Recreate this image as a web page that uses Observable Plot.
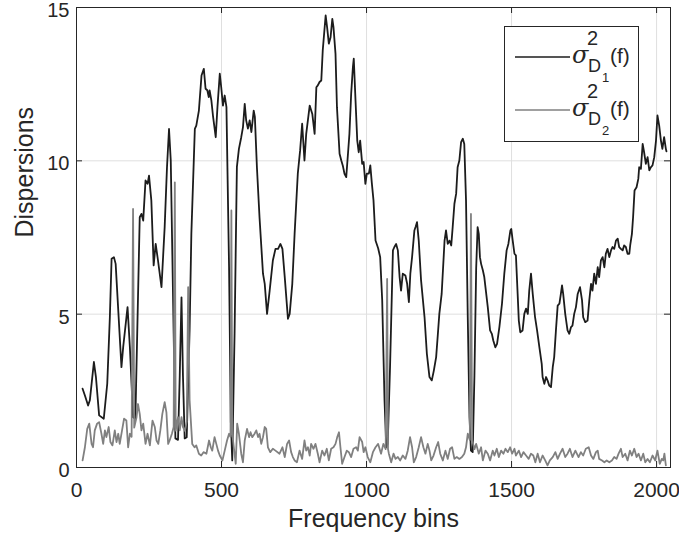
<!DOCTYPE html>
<html>
<head>
<meta charset="utf-8">
<script src="https://cdn.jsdelivr.net/npm/d3@7"></script>
<script src="https://cdn.jsdelivr.net/npm/@observablehq/plot@0.6"></script>
<style>
  html, body { margin: 0; padding: 0; background: white; }
</style>
</head>
<body>
<div id="chart"></div>
<script>
// ---- data ----
const bins1 = [21,29,40,46,60,67,78,94,106,115,121,129,135,144,155,161,176,184,195,203,218,224,230,238,245,250,258,266,273,281,293,304,312,319,325,335,341,350,356,362,367,373,380,390,396,408,413,422,431,439,445,451,456,459,465,471,480,486,494,499,505,511,517,526,532,537,545,553,560,568,574,580,585,591,597,603,611,615,622,631,643,649,657,666,677,686,695,703,710,718,729,735,744,752,763,771,778,786,792,804,813,821,827,832,838,844,849,859,864,870,876,882,886,893,898,907,913,918,924,930,936,941,947,953,956,962,968,973,978,985,990,996,1001,1008,1013,1018,1024,1031,1040,1047,1054,1062,1068,1073,1081,1091,1096,1102,1108,1114,1119,1125,1134,1140,1146,1151,1157,1165,1169,1174,1180,1188,1200,1208,1217,1225,1232,1240,1246,1251,1259,1269,1274,1280,1286,1292,1297,1303,1309,1314,1320,1326,1332,1337,1343,1349,1355,1360,1366,1372,1378,1383,1387,1391,1395,1401,1406,1412,1418,1426,1432,1437,1444,1450,1458,1467,1475,1483,1489,1496,1499,1504,1510,1515,1521,1525,1530,1538,1544,1550,1556,1561,1567,1573,1581,1588,1596,1604,1607,1613,1619,1624,1630,1636,1642,1647,1653,1659,1665,1670,1674,1678,1685,1693,1699,1705,1710,1716,1722,1728,1736,1743,1747,1754,1762,1768,1774,1779,1785,1791,1797,1802,1808,1814,1820,1825,1831,1837,1843,1848,1854,1860,1866,1871,1877,1883,1888,1894,1900,1906,1909,1915,1919,1924,1931,1937,1940,1946,1952,1957,1963,1969,1975,1980,1986,1992,1998,2003,2009,2015,2020,2026,2032,2034];
const vals1 = [2.57,2.35,2.02,2.19,3.44,2.95,1.70,1.59,2.73,4.9,6.81,6.86,6.64,5.12,3.27,3.93,5.23,3.93,1.64,1.59,8.16,8.27,8.05,9.36,9.25,9.52,8.71,6.59,7.29,6.75,5.88,7.84,9.79,11.04,10.01,4.36,0.95,0.9,3.0,5.55,3.0,0.95,0.99,4.5,7.62,11.04,11.15,11.64,12.78,13.0,12.35,12.3,12.08,12.3,11.97,11.43,10.77,11.75,12.84,12.4,11.8,12.13,11.75,6.53,1.5,0.23,4.36,9.8,10.39,10.77,11.1,11.86,11.32,11.05,11.32,10.94,11.64,11.43,9.8,8.16,6.32,5.99,5.01,5.77,6.75,7.13,7.13,7.29,7.13,6.21,4.85,5.01,5.99,7.62,9.58,10.34,11.21,10.01,10.88,11.8,11.53,10.88,12.4,12.46,12.57,12.62,13.6,14.74,14.36,13.82,14.03,14.63,14.36,13.49,11.75,10.23,10.01,9.85,9.58,9.47,10.23,10.88,12.19,13.06,13.33,11.97,10.66,10.28,10.66,9.9,9.96,9.25,9.58,9.58,9.85,9.3,8.71,7.4,7.15,6.86,5.45,2.19,0.66,0.77,3.27,7.08,7.19,7.29,7.08,6.21,5.77,6.32,6.26,5.99,5.39,6.32,6.86,7.73,7.84,8.0,7.4,6.1,4.9,3.71,2.95,2.84,3.16,3.6,4.36,5.01,5.66,7.4,7.73,7.29,7.4,7.24,7.84,8.6,8.93,9.79,10.01,10.61,10.72,10.55,8.71,4.9,1.64,0.55,0.5,3.0,6.5,7.84,7.62,6.86,6.64,6.43,6.21,5.72,5.23,4.47,4.36,4.14,3.92,4.03,4.58,5.34,6.32,7.08,7.29,7.73,7.78,7.4,6.97,6.92,5.66,4.79,4.41,4.47,5.01,5.18,5.01,5.77,6.32,5.66,4.9,4.47,3.92,3.38,2.95,2.73,2.95,2.84,2.67,2.62,3.27,3.6,4.47,5.28,5.34,5.66,5.94,5.66,5.01,4.47,4.36,4.58,4.63,5.01,5.23,5.66,5.88,5.45,4.9,4.74,4.79,5.45,5.99,5.77,6.32,5.99,6.53,6.21,6.75,6.86,6.53,6.97,7.13,6.86,7.08,7.19,7.13,7.4,7.46,7.19,7.13,7.08,7.24,7.19,6.97,6.97,7.24,7.62,8.16,9.03,9.14,9.41,9.79,9.74,10.55,10.28,9.9,10.12,9.69,9.79,9.85,10.12,10.66,11.48,11.15,10.66,10.39,10.77,10.39,10.31];

const bins2 = [21,29,37,44,52,57,63,71,78,86,92,98,103,111,117,124,132,138,144,149,157,164,172,178,184,190,195,199,207,212,218,224,230,238,245,253,262,270,276,282,289,296,304,310,316,321,329,335,339,342,350,356,362,367,374,380,385,390,399,407,413,422,430,438,448,457,463,468,476,482,488,494,503,511,519,526,531,534,537,549,554,560,568,574,580,588,595,600,606,614,620,626,631,637,643,649,654,660,668,677,686,700,710,718,726,733,740,746,752,760,769,778,786,792,798,804,809,817,824,832,838,847,855,863,870,878,886,893,899,905,910,916,924,932,939,947,955,964,970,976,985,990,996,1004,1013,1022,1031,1040,1050,1058,1066,1071,1074,1077,1085,1093,1100,1108,1116,1125,1134,1142,1150,1157,1163,1171,1180,1188,1196,1203,1211,1217,1223,1231,1240,1247,1254,1263,1272,1280,1288,1295,1303,1311,1320,1329,1337,1343,1349,1356,1360,1364,1372,1378,1387,1395,1401,1410,1418,1426,1435,1441,1449,1456,1464,1472,1479,1487,1495,1502,1510,1515,1525,1533,1541,1550,1559,1567,1575,1582,1590,1598,1607,1616,1624,1632,1642,1651,1659,1667,1676,1685,1693,1701,1710,1720,1731,1739,1747,1756,1766,1774,1782,1791,1797,1802,1812,1820,1828,1837,1846,1854,1862,1869,1877,1883,1892,1900,1908,1915,1923,1931,1938,1946,1954,1961,1969,1977,1986,1995,2003,2011,2018,2023,2027,2032];
const vals2 = [0.23,0.66,1.26,1.43,0.77,0.66,1.21,1.43,1.48,1.1,0.77,1.21,0.99,1.32,0.83,0.72,1.21,0.83,1.1,0.77,1.21,1.59,1.53,0.66,1.1,1.0,8.43,1.3,1.64,2.07,1.75,1.21,1.43,0.77,1.1,0.72,1.53,1.32,0.88,0.77,1.21,1.75,2.13,1.8,0.77,0.88,1.1,1.32,9.3,1.2,1.64,1.21,1.64,1.32,1.2,1.5,5.88,2.19,0.77,0.66,0.72,0.45,0.39,0.5,0.45,0.88,0.66,0.55,0.99,0.77,0.55,0.39,0.23,0.55,0.88,1.1,1.0,8.38,1.1,0.12,1.43,1.1,0.45,0.17,0.88,1.26,0.99,1.15,0.99,1.1,1.21,0.99,1.1,0.77,0.99,1.32,1.26,0.66,0.5,0.61,0.55,0.45,0.66,0.34,0.77,0.88,0.5,0.34,0.23,0.17,0.55,0.28,0.88,0.55,0.66,0.39,0.77,0.61,0.77,0.45,0.17,0.55,0.39,0.61,0.23,0.61,0.66,0.77,0.99,1.15,0.66,0.12,0.34,0.55,0.5,0.34,0.61,0.66,0.55,0.99,0.83,0.5,0.66,0.34,0.17,0.5,0.66,0.77,0.45,0.77,0.6,6.15,0.6,0.45,0.17,0.45,0.28,0.34,0.23,0.39,0.28,0.55,0.99,0.66,0.17,0.34,0.66,0.99,0.66,0.45,0.77,0.55,0.23,0.39,0.66,0.83,0.45,0.23,0.55,0.28,0.61,0.66,0.28,0.34,0.28,0.34,0.45,0.66,1.1,0.9,8.27,0.9,0.6,0.77,0.45,0.66,0.23,0.55,0.45,0.23,0.55,0.39,0.61,0.34,0.55,0.45,0.61,0.5,0.66,0.45,0.61,0.39,0.55,0.34,0.5,0.39,0.28,0.45,0.39,0.17,0.45,0.17,0.39,0.23,0.07,0.23,0.34,0.5,0.28,0.45,0.61,0.34,0.45,0.61,0.34,0.55,0.34,0.5,0.39,0.61,0.66,0.39,0.28,0.5,0.55,0.28,0.23,0.17,0.23,0.17,0.23,0.34,0.28,0.45,0.61,0.34,0.45,0.23,0.55,0.39,0.61,0.34,0.45,0.23,0.45,0.17,0.28,0.17,0.39,0.23,0.55,0.12,0.28,0.23,0.45,0.07];

const xTicks = [0, 500, 1000, 1500, 2000];
const yTicks = [0, 5, 10, 15];
const xLabel = "Frequency bins";
const yLabel = "Dispersions";

const series1 = bins1.map((b, i) => ({bin: b, v: vals1[i]}));
const series2 = bins2.map((b, i) => ({bin: b, v: vals2[i]}));

const axisColor = "#262626";
const chart = Plot.plot({
  width: 679,
  height: 545,
  marginLeft: 76,
  marginRight: 9,
  marginTop: 7,
  marginBottom: 78,
  style: {fontFamily: "'Liberation Sans', Arial, sans-serif", color: axisColor, background: "white"},
  x: {domain: [0, 2048]},
  y: {domain: [0, 15]},
  marks: [
    Plot.gridX(xTicks, {stroke: "#dfdfdf", strokeOpacity: 1}),
    Plot.gridY(yTicks, {stroke: "#dfdfdf", strokeOpacity: 1}),
    Plot.line(series1, {x: "bin", y: "v", stroke: "#1c1c1c", strokeWidth: 1.8}),
    Plot.line(series2, {x: "bin", y: "v", stroke: "#808080", strokeWidth: 1.8}),
    Plot.frame({stroke: axisColor, strokeWidth: 1}),
    Plot.tickX(xTicks, {x: d => d, stroke: axisColor, insetTop: 454}),
    Plot.tickX(xTicks, {x: d => d, stroke: axisColor, insetBottom: 454}),
    Plot.tickY(yTicks, {y: d => d, stroke: axisColor, insetRight: 588}),
    Plot.tickY(yTicks, {y: d => d, stroke: axisColor, insetLeft: 588}),
    Plot.axisX(xTicks, {tickSize: 0, tickPadding: 15, fontSize: 21, label: null, tickFormat: d => String(d)}),
    Plot.axisY(yTicks, {tickSize: 0, tickPadding: 7, fontSize: 20, dy: 3, label: null, tickFormat: d => String(d)}),
    Plot.text([xLabel], {text: d => d, frameAnchor: "bottom", dy: 59, fontSize: 25, fill: axisColor}),
    Plot.text([yLabel], {text: d => d, frameAnchor: "left", dx: -52, rotate: -90, fontSize: 25, fill: axisColor})
  ]
});
document.getElementById("chart").appendChild(chart);

// ---- legend ----
const svg = d3.select(chart);
const lg = svg.append("g").attr("text-anchor", "start");
lg.append("rect").attr("x", 504.5).attr("y", 26.5).attr("width", 134).attr("height", 115)
  .attr("fill", "white").attr("stroke", axisColor).attr("stroke-width", 1);
const entries = [
  {stroke: "#1c1c1c", sub: "1"},
  {stroke: "#808080", sub: "2"}
];
entries.forEach((e, i) => {
  const oy = i * 53;
  lg.append("line").attr("x1", 515).attr("x2", 570).attr("y1", 57 + oy).attr("y2", 57 + oy)
    .attr("stroke", e.stroke).attr("stroke-width", 1.6);
  const t = (x, y, s, size, extra) => {
    const el = lg.append("text").attr("x", x).attr("y", y).attr("font-size", size)
      .attr("text-anchor", "start").attr("fill", axisColor).text(s);
    if (extra) extra(el);
    return el;
  };
  t(572, 63 + oy, "σ", 24, el => el.attr("font-style", "italic").attr("font-family", "'DejaVu Serif', serif"));
  t(587, 45 + oy, "2", 20);
  t(588, 72 + oy, "D", 18);
  t(602, 82 + oy, e.sub, 13);
  t(610, 63 + oy, "(f)", 21);
});
</script>
</body>
</html>
